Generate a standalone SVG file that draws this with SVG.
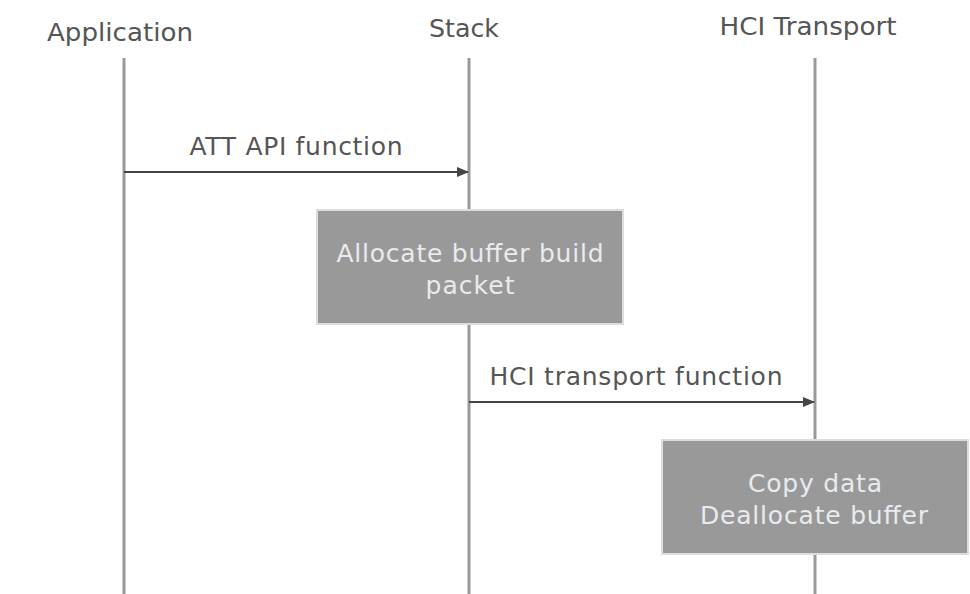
<svg xmlns="http://www.w3.org/2000/svg" width="970" height="594" viewBox="0 0 970 594">
<style>
.hdr{font-family:"DejaVu Sans",sans-serif;font-size:25px;fill:#555;text-anchor:middle}
.lbl{font-family:"DejaVu Sans",sans-serif;font-size:25px;fill:#555;text-anchor:middle}
.life{stroke:#999;stroke-width:3;fill:none}
.box{fill:#999;stroke:#ddd;stroke-width:2}
.btxt{font-family:"DejaVu Sans",sans-serif;font-size:25px;fill:#e8ebef;text-anchor:middle}
.msg{stroke:#444;stroke-width:2;fill:none}
</style>
<defs>
<marker id="ah" markerWidth="12" markerHeight="12" refX="11" refY="6" orient="auto" markerUnits="userSpaceOnUse">
<path d="M0,1 L12,6 L0,11 Z" fill="#444"/>
</marker>
</defs>
<rect width="970" height="594" fill="#fff"/>
<g id="lifeline-application">
<text class="hdr" x="120" y="41" textLength="146" lengthAdjust="spacingAndGlyphs">Application</text>
<line class="life" x1="124" y1="58" x2="124" y2="594"/>
</g>
<g id="lifeline-stack">
<text class="hdr" x="464" y="37" textLength="70" lengthAdjust="spacingAndGlyphs">Stack</text>
<line class="life" x1="469" y1="58" x2="469" y2="594"/>
</g>
<g id="lifeline-hci">
<text class="hdr" x="808" y="35" textLength="177" lengthAdjust="spacingAndGlyphs">HCI Transport</text>
<line class="life" x1="815" y1="58" x2="815" y2="594"/>
</g>
<g id="connectors">
<line class="msg" x1="124" y1="172" x2="468" y2="172" marker-end="url(#ah)"/>
<text class="lbl" x="296" y="155" textLength="213" lengthAdjust="spacing">ATT API function</text>
<line class="msg" x1="469" y1="402" x2="814" y2="402" marker-end="url(#ah)"/>
<text class="lbl" x="636" y="385" textLength="293" lengthAdjust="spacing">HCI transport function</text>
</g>
<g id="box-allocate">
<rect class="box" x="317" y="210" width="306" height="114"/>
<text class="btxt" x="470" y="262" textLength="267" lengthAdjust="spacing">Allocate buffer build</text>
<text class="btxt" x="470" y="294" textLength="89" lengthAdjust="spacing">packet</text>
</g>
<g id="box-copy">
<rect class="box" x="662" y="440" width="306" height="114"/>
<text class="btxt" x="815" y="492" textLength="134" lengthAdjust="spacing">Copy data</text>
<text class="btxt" x="814" y="524" textLength="228" lengthAdjust="spacing">Deallocate buffer</text>
</g>
</svg>
